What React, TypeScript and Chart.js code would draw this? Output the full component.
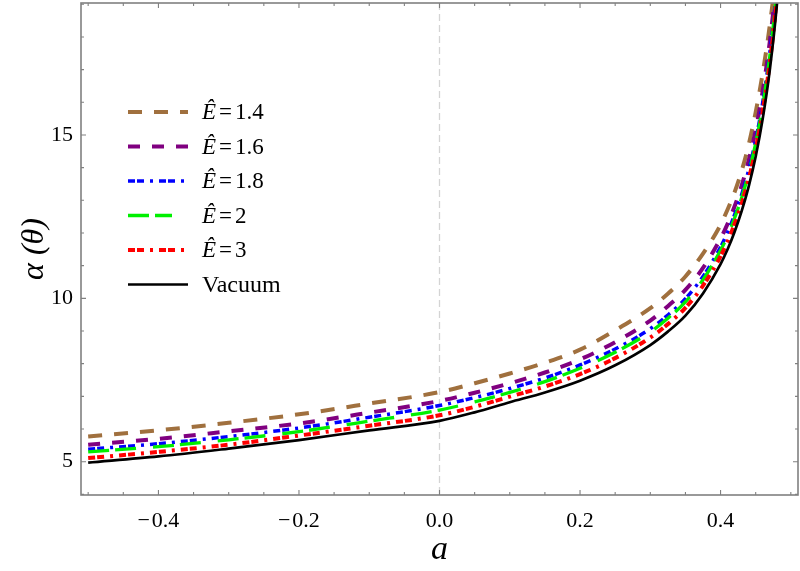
import React, { useEffect, useRef } from "react";
import { Chart, registerables } from "chart.js";

Chart.register(...registerables);

// ---- data ----
const X_VALUES = [-0.5, -0.4, -0.3, -0.2, -0.1, 0, 0.05, 0.1, 0.15, 0.2, 0.25, 0.3, 0.325, 0.35, 0.375, 0.4, 0.41, 0.42, 0.43, 0.44, 0.45, 0.46, 0.47, 0.48, 0.49];

const E_1_4 = [5.77, 5.96, 6.19, 6.45, 6.78, 7.13, 7.40, 7.70, 8.03, 8.43, 9.02, 9.70, 10.14, 10.67, 11.37, 12.25, 12.72, 13.25, 13.90, 14.70, 15.70, 16.90, 18.35, 20.2, 23.0];
const E_1_6 = [5.52, 5.70, 5.93, 6.17, 6.50, 6.86, 7.11, 7.40, 7.73, 8.13, 8.66, 9.32, 9.76, 10.26, 10.93, 11.83, 12.28, 12.82, 13.45, 14.22, 15.16, 16.35, 17.85, 19.85, 22.6];
const E_1_8 = [5.38, 5.55, 5.77, 6.03, 6.36, 6.72, 6.96, 7.24, 7.56, 7.96, 8.45, 9.07, 9.49, 9.99, 10.67, 11.57, 12.02, 12.56, 13.18, 13.93, 14.85, 16.00, 17.50, 19.50, 22.2];
const E_2 = [5.30, 5.46, 5.67, 5.92, 6.24, 6.58, 6.83, 7.12, 7.45, 7.86, 8.35, 8.97, 9.39, 9.89, 10.57, 11.47, 11.92, 12.46, 13.08, 13.83, 14.75, 15.90, 17.40, 19.40, 22.1];
const E_3 = [5.11, 5.30, 5.52, 5.80, 6.10, 6.42, 6.68, 6.99, 7.30, 7.68, 8.17, 8.80, 9.21, 9.71, 10.39, 11.29, 11.74, 12.28, 12.90, 13.65, 14.57, 15.73, 17.20, 19.20, 21.9];
const VACUUM = [4.97, 5.16, 5.40, 5.66, 5.96, 6.25, 6.51, 6.82, 7.12, 7.48, 7.95, 8.57, 8.98, 9.47, 10.15, 11.05, 11.50, 12.04, 12.67, 13.42, 14.34, 15.50, 16.98, 18.95, 21.7];

const SERIES_LABELS = ["1.4", "1.6", "1.8", "2", "3", "Vacuum"];
const X_MAJOR_TICKS = [-0.4, -0.2, 0, 0.2, 0.4];
const Y_MAJOR_TICKS = [5, 10, 15];
const X_MIN = -0.5102;
const X_MAX = 0.5102;
const Y_MIN = 3.98;
const Y_MAX = 19.04;

// ---- styles ----
const STYLES = [
  { color: "rgb(160,112,62)", width: 4, dash: [14, 12] },
  { color: "rgb(128,0,128)", width: 4, dash: [12, 12] },
  { color: "rgb(0,0,255)", width: 3.5, dash: [7, 2, 7, 6, 3, 6] },
  { color: "rgb(0,240,0)", width: 3.3, dash: [21, 6, 21, 17] },
  { color: "rgb(255,0,0)", width: 4, dash: [7, 2, 7, 6, 3, 6] },
  { color: "#000000", width: 2.7, dash: [] as number[] },
];

const SERIES = [E_1_4, E_1_6, E_1_8, E_2, E_3, VACUUM];

const FRAME = "#808080";
const SERIF = '"Liberation Serif", "Times New Roman", serif';

const fmtX = (v: number) => {
  if (Math.abs(v) < 1e-9) return "0.0";
  const s = Math.abs(v).toFixed(1);
  return v < 0 ? "\u2212\u200A" + s : s;
};

const framePlugin = {
  id: "frameAndLegend",
  beforeDatasetsDraw(chart: any) {
    const { ctx, chartArea: a, scales } = chart;
    const px = scales.x.getPixelForValue(0);
    ctx.save();
    ctx.strokeStyle = "#d4d4d4";
    ctx.lineWidth = 1.3;
    ctx.setLineDash([7, 4]);
    ctx.beginPath();
    ctx.moveTo(px, a.top);
    ctx.lineTo(px, a.bottom);
    ctx.stroke();
    ctx.restore();
  },
  afterDatasetsDraw(chart: any) {
    const { ctx, chartArea: a, scales } = chart;
    const xs = scales.x;
    const ys = scales.y;
    ctx.save();
    ctx.strokeStyle = FRAME;
    ctx.lineWidth = 1.6;
    ctx.setLineDash([]);
    ctx.strokeRect(a.left, a.top, a.right - a.left, a.bottom - a.top);
    ctx.lineWidth = 1.1;
    ctx.beginPath();
    for (let i = -10; i <= 10; i++) {
      const v = i * 0.05;
      const p = xs.getPixelForValue(v);
      const major = i % 4 === 0;
      const len = major ? 5 : 3;
      ctx.moveTo(p, a.bottom);
      ctx.lineTo(p, a.bottom - len);
      ctx.moveTo(p, a.top);
      ctx.lineTo(p, a.top + len);
    }
    for (let v = 4; v <= 19; v++) {
      const p = ys.getPixelForValue(v);
      const major = v % 5 === 0;
      const len = major ? 5 : 3;
      ctx.moveTo(a.left, p);
      ctx.lineTo(a.left + len, p);
      ctx.moveTo(a.right, p);
      ctx.lineTo(a.right - len, p);
    }
    ctx.stroke();

    // legend
    const lx0 = 128;
    const lx1 = 188;
    const tx = 202;
    const y0 = 112;
    const dy = 34.5;
    ctx.textBaseline = "middle";
    ctx.fillStyle = "#000";
    SERIES_LABELS.forEach((lab, i) => {
      const st = STYLES[i];
      const y = y0 + i * dy;
      ctx.save();
      ctx.strokeStyle = st.color;
      ctx.lineWidth = st.width;
      ctx.lineCap = "butt";
      ctx.setLineDash(st.dash);
      ctx.beginPath();
      ctx.moveTo(lx0, y);
      ctx.lineTo(i === 3 ? 172 : lx1, y);
      ctx.stroke();
      ctx.restore();
      if (lab === "Vacuum") {
        ctx.font = `24px ${SERIF}`;
        ctx.fillText("Vacuum", tx, y + 1);
      } else {
        ctx.font = `italic 23px ${SERIF}`;
        ctx.fillText("\u00CA", tx, y + 1);
        let x = tx + ctx.measureText("\u00CA").width + 3;
        ctx.font = `23px ${SERIF}`;
        ctx.fillText("=", x, y + 1);
        x += ctx.measureText("=").width + 3;
        ctx.fillText(lab, x, y + 1);
      }
    });
    ctx.restore();
  },
};

export default function App() {
  const ref = useRef<HTMLCanvasElement>(null);
  useEffect(() => {
    const datasets = SERIES.map((vals, i) => ({
      label: SERIES_LABELS[i],
      data: X_VALUES.map((x, j) => ({ x, y: vals[j] })),
      borderColor: STYLES[i].color,
      borderWidth: STYLES[i].width,
      borderDash: STYLES[i].dash,
      borderCapStyle: "butt" as const,
      pointRadius: 0,
      fill: false,
      cubicInterpolationMode: "monotone" as const,
      order: SERIES.length - i,
    }));
    const chart = new Chart(ref.current as HTMLCanvasElement, {
      type: "line",
      data: { datasets },
      options: {
        responsive: false,
        devicePixelRatio: 1,
        animation: false,
        layout: { padding: { left: 0, right: 2, top: 3, bottom: 0 } },
        plugins: { legend: { display: false }, tooltip: { enabled: false } },
        scales: {
          x: {
            type: "linear",
            position: "bottom",
            min: X_MIN,
            max: X_MAX,
            afterBuildTicks: (s: any) => {
              s.ticks = X_MAJOR_TICKS.map((v) => ({ value: v }));
            },
            afterFit: (s: any) => {
              s.height = 76;
              s.paddingLeft = 0;
              s.paddingRight = 0;
            },
            grid: { display: false, drawTicks: false },
            border: { display: false },
            ticks: {
              color: "#000",
              font: { family: SERIF, size: 22 },
              padding: 13,
              maxRotation: 0,
              autoSkip: false,
              callback: (v: any) => fmtX(Number(v)),
            },
            title: {
              display: true,
              text: "a",
              color: "#000",
              font: { family: SERIF, size: 34, style: "italic" },
              padding: { top: 0, bottom: 1 },
            },
          },
          y: {
            type: "linear",
            min: Y_MIN,
            max: Y_MAX,
            afterBuildTicks: (s: any) => {
              s.ticks = Y_MAJOR_TICKS.map((v) => ({ value: v }));
            },
            afterFit: (s: any) => {
              s.width = 81;
              s.paddingTop = 0;
              s.paddingBottom = 0;
            },
            grid: { display: false, drawTicks: false },
            border: { display: false },
            ticks: {
              color: "#000",
              font: { family: SERIF, size: 22 },
              padding: 8,
              autoSkip: false,
              callback: (v: any) => String(v),
            },
            title: {
              display: true,
              text: "\u03B1 (\u03B8)",
              color: "#000",
              font: { family: SERIF, size: 32, style: "italic" },
              padding: { top: 15, bottom: 0 },
            },
          },
        },
      },
      plugins: [framePlugin],
    } as any);
    return () => chart.destroy();
  }, []);
  return (
    <div style={{ position: "fixed", left: 0, top: 0, width: 800, height: 571, background: "#fff" }}>
      <canvas ref={ref} width={800} height={571} style={{ display: "block", width: 800, height: 571 }} />
    </div>
  );
}
